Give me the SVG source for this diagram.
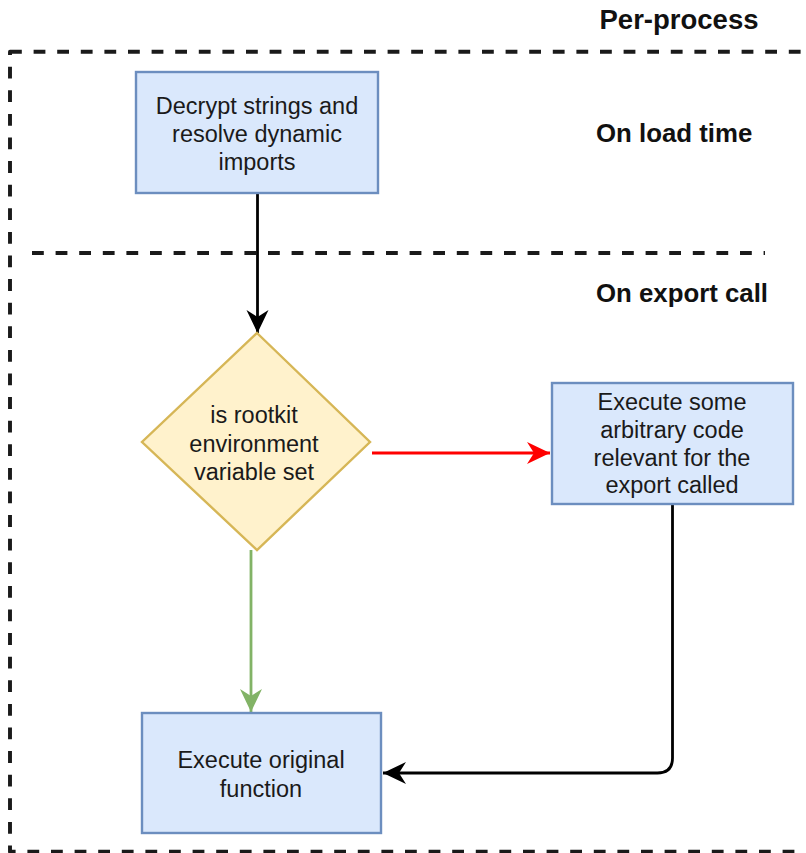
<svg xmlns="http://www.w3.org/2000/svg" width="806" height="853" viewBox="0 0 806 853">
<style>
.box{fill:#dae8fc;stroke:#6c8ebf;stroke-width:2.4}
.dia{fill:#fff2cc;stroke:#d6b656;stroke-width:2.4}
.t{font-family:"Liberation Sans",Arial,sans-serif;font-size:23.5px;fill:#1a1a1a;text-anchor:middle}
.b{font-family:"Liberation Sans",Arial,sans-serif;font-weight:bold;fill:#111}
.dash{fill:none;stroke:#1a1a1a;stroke-width:3.9;stroke-dasharray:11.8 11.8;stroke-linejoin:round}
.c{fill:none;stroke-width:2.8}
</style>
<defs>
<marker id="ak" viewBox="-24 -12 25 24" refX="0" refY="0" markerWidth="25" markerHeight="24" markerUnits="userSpaceOnUse" orient="auto"><path d="M0,0 L-23,-11 L-16,0 L-23,11 Z" fill="#000"/></marker>
<marker id="ar" viewBox="-24 -12 25 24" refX="0" refY="0" markerWidth="25" markerHeight="24" markerUnits="userSpaceOnUse" orient="auto"><path d="M0,0 L-23,-11 L-16,0 L-23,11 Z" fill="#ff0000"/></marker>
<marker id="ag" viewBox="-24 -12 25 24" refX="0" refY="0" markerWidth="25" markerHeight="24" markerUnits="userSpaceOnUse" orient="auto"><path d="M0,0 L-23,-11 L-16,0 L-23,11 Z" fill="#82b366"/></marker>
</defs>
<g id="containers">
<rect class="dash" x="10" y="51.7" width="830" height="800"/>
<line class="dash" x1="32" y1="253" x2="765" y2="253"/>
</g>
<g id="labels">
<text class="b" x="679" y="29" font-size="27.5" text-anchor="middle">Per-process</text>
<text class="b" x="596" y="142" font-size="25.8">On load time</text>
<text class="b" x="596" y="302" font-size="25.8">On export call</text>
</g>
<g id="connectors">
<path class="c" stroke="#000" d="M257.5,193 L257.5,333" marker-end="url(#ak)"/>
<path class="c" stroke="#ff0000" d="M372,453 L550,453" marker-end="url(#ar)"/>
<path class="c" stroke="#82b366" d="M251,550 L251,712" marker-end="url(#ag)"/>
<path class="c" stroke="#000" d="M672.5,504 L672.5,758 Q672.5,773 657.5,773 L383,773" marker-end="url(#ak)"/>
</g>
<g id="decrypt">
<rect class="box" x="136" y="72" width="242" height="121"/>
<text class="t"><tspan x="257" y="114">Decrypt strings and</tspan><tspan x="257" y="142">resolve dynamic</tspan><tspan x="257" y="170">imports</tspan></text>
</g>
<g id="decision">
<polygon class="dia" points="257,333 370,442 257,550 142,442"/>
<text class="t"><tspan x="254" y="423">is rootkit</tspan><tspan x="254" y="452">environment</tspan><tspan x="254" y="480">variable set</tspan></text>
</g>
<g id="arbitrary">
<rect class="box" x="552" y="383" width="241" height="121"/>
<text class="t"><tspan x="672" y="410">Execute some</tspan><tspan x="672" y="438">arbitrary code</tspan><tspan x="672" y="466">relevant for the</tspan><tspan x="672" y="493">export called</tspan></text>
</g>
<g id="original">
<rect class="box" x="142" y="713" width="239" height="120"/>
<text class="t"><tspan x="261" y="768">Execute original</tspan><tspan x="261" y="797">function</tspan></text>
</g>
</svg>
